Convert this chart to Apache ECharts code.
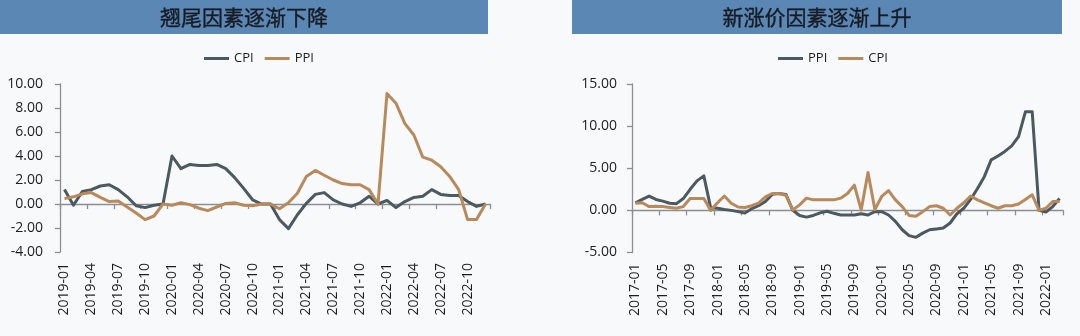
<!DOCTYPE html>
<html>
<head>
<meta charset="utf-8">
<script src="https://cdn.jsdelivr.net/npm/echarts@6/dist/echarts.min.js"></script>
<style>
  html, body { margin: 0; padding: 0; background: #f8f9fb; }
  #chart { width: 1080px; height: 336px; }
</style>
</head>
<body>
<div id="chart"></div>
<script>
// Month labels "YYYY-MM" starting in January of the given year
function monthLabels(startYear, count) {
  var out = [];
  for (var i = 0; i < count; i++) {
    var y = startYear + Math.floor(i / 12);
    var m = (i % 12) + 1;
    out.push(y + '-' + (m < 10 ? '0' + m : m));
  }
  return out;
}

// Left panel: carry-over factor, 2019-01 .. 2022-12
var leftTitle = '翘尾因素逐渐下降';
var leftCategories = monthLabels(2019, 48);
var leftCPI = [
  1.2, -0.1, 1.05, 1.2, 1.5, 1.6, 1.2, 0.6, -0.15, -0.3, -0.1, 0.0,
  4.0, 2.95, 3.3, 3.2, 3.2, 3.3, 2.95, 2.2, 1.3, 0.35, 0.0, 0.0,
  -1.3, -2.05, -0.9, 0.05, 0.8, 0.95, 0.35, 0.0, -0.2, 0.1, 0.65, 0.0,
  0.3, -0.3, 0.2, 0.55, 0.65, 1.2, 0.8, 0.7, 0.7, 0.2, -0.2, 0.0
];
var leftPPI = [
  0.45, 0.6, 0.85, 0.95, 0.55, 0.2, 0.25, -0.25, -0.75, -1.3, -1.0, 0.0,
  -0.1, 0.1, -0.05, -0.35, -0.55, -0.25, 0.05, 0.1, -0.1, -0.15, 0.0, 0.0,
  -0.4, 0.1, 0.9, 2.3, 2.8, 2.4, 2.0, 1.7, 1.6, 1.6, 1.2, 0.0,
  9.2, 8.4, 6.7, 5.75, 3.9, 3.65, 3.1, 2.3, 1.2, -1.3, -1.3, 0.0
];
var leftYTicks = { min: -4, max: 10, interval: 2 };

// Right panel: new-price factor, 2017-01 .. 2022-03
var rightTitle = '新涨价因素逐渐上升';
var rightCategories = monthLabels(2017, 63);
var rightPPI = [
  0.9, 1.3, 1.7, 1.3, 1.1, 0.85, 0.8, 1.4, 2.5, 3.5, 4.1, 0.3,
  0.25, 0.1, 0.0, -0.15, -0.3, 0.2, 0.55, 1.05, 1.9, 2.0, 1.9, 0.0,
  -0.6, -0.8, -0.6, -0.3, -0.1, -0.35, -0.55, -0.55, -0.55, -0.4, -0.55, -0.15,
  -0.15, -0.55, -1.3, -2.3, -3.0, -3.2, -2.7, -2.3, -2.2, -2.1, -1.5, -0.4,
  0.25, 1.3, 2.6, 4.0, 6.0, 6.45, 7.0, 7.65, 8.75, 11.7, 11.7, 0.0,
  -0.2, 0.45, 1.4
];
var rightCPI = [
  0.85, 0.9, 0.45, 0.5, 0.45, 0.35, 0.25, 0.45, 1.4, 1.4, 1.4, 0.0,
  0.9, 1.7, 0.85, 0.4, 0.35, 0.55, 0.85, 1.6, 2.0, 2.0, 1.8, 0.05,
  0.65, 1.45, 1.25, 1.25, 1.25, 1.25, 1.45, 2.0, 3.0, 0.05, 4.5, 0.1,
  1.65, 2.35, 1.25, 0.45, -0.6, -0.7, -0.15, 0.45, 0.55, 0.25, -0.55, 0.25,
  0.9, 1.7, 1.25, 0.9, 0.55, 0.25, 0.55, 0.55, 0.75, 1.3, 1.85, 0.0,
  0.25, 1.05, 1.05
];
var rightYTicks = { min: -5, max: 15, interval: 5 };

var DARK = '#4b5961';
var TAN = '#b8895b';
var AXIS = '#8a8f94';
var FONT = '"Open Sans", "Noto Sans", sans-serif';
var CJK = '"Noto Sans CJK SC", sans-serif';

var chart = echarts.init(document.getElementById('chart'), null, { renderer: 'canvas' });

function labelAxis(gridIndex, cats, every) {
  return {
    type: 'category', gridIndex: gridIndex, data: cats, boundaryGap: true,
    position: 'bottom',
    axisLine: { show: false, onZero: false },
    axisTick: { show: false },
    axisLabel: {
      interval: every - 1, rotate: 90, margin: 11,
      fontFamily: FONT, fontSize: 14, color: '#1e1e1e'
    }
  };
}
function zeroAxis(gridIndex, cats, every) {
  return {
    type: 'category', gridIndex: gridIndex, data: cats, boundaryGap: true,
    position: 'bottom',
    axisLine: { show: true, onZero: true, lineStyle: { color: AXIS, width: 1.3 } },
    axisTick: { show: true, interval: every - 1, length: 5, lineStyle: { color: AXIS, width: 1.3 } },
    axisLabel: { show: false }
  };
}
function valueAxis(gridIndex, t, margin) {
  return {
    type: 'value', gridIndex: gridIndex, min: t.min, max: t.max, interval: t.interval,
    axisLine: { show: true, lineStyle: { color: AXIS, width: 1.3 } },
    axisTick: { show: true, length: 5, lineStyle: { color: AXIS, width: 1.3 } },
    splitLine: { show: false },
    axisLabel: {
      margin: margin, fontFamily: FONT, fontSize: 14, color: '#1e1e1e',
      formatter: function (v) { return v.toFixed(2); }
    }
  };
}
function lineSeries(name, xi, yi, data, color) {
  return {
    name: name, type: 'line', xAxisIndex: xi, yAxisIndex: yi, data: data,
    showSymbol: false, symbol: 'none', smooth: false,
    lineStyle: { color: color, width: 3, join: 'round' },
    itemStyle: { color: color },
    emphasis: { disabled: true }, animation: false
  };
}
function titleBar(x, w, text) {
  return [
    { type: 'rect', shape: { x: x, y: 0, width: w, height: 34 }, style: { fill: '#5b87b4' }, silent: true },
    { type: 'text', x: x + w / 2, y: 17, style: {
        text: text, fill: '#161a22', font: '21px ' + CJK, align: 'center', verticalAlign: 'middle',
        stroke: '#161a22', lineWidth: 0.35
      }, silent: true }
  ];
}

chart.setOption({
  backgroundColor: '#f8f9fb',
  animation: false,
  graphic: titleBar(0, 488, leftTitle).concat(titleBar(572, 490, rightTitle)),
  legend: [
    {
      left: 199, top: 47, itemWidth: 25, itemHeight: 3, itemGap: 11, icon: 'rect',
      textStyle: { fontFamily: FONT, fontSize: 13, color: '#1e1e1e' },
      selectedMode: false,
      data: [
        { name: 'CPI', itemStyle: { color: DARK } },
        { name: 'PPI', itemStyle: { color: TAN } }
      ]
    },
    {
      left: 773, top: 47, itemWidth: 25, itemHeight: 3, itemGap: 11, icon: 'rect',
      textStyle: { fontFamily: FONT, fontSize: 13, color: '#1e1e1e' },
      selectedMode: false,
      data: [
        { name: 'PPI', itemStyle: { color: DARK } },
        { name: 'CPI', itemStyle: { color: TAN } }
      ]
    }
  ],
  grid: [
    { left: 60, top: 84, width: 430, height: 168 },
    { left: 632, top: 84, width: 431, height: 168.5 }
  ],
  xAxis: [
    labelAxis(0, leftCategories, 3),
    zeroAxis(0, leftCategories, 3),
    labelAxis(1, rightCategories, 4),
    zeroAxis(1, rightCategories, 4)
  ],
  yAxis: [
    valueAxis(0, leftYTicks, 17),
    valueAxis(1, rightYTicks, 15)
  ],
  series: [
    lineSeries('CPI', 0, 0, leftCPI, DARK),
    lineSeries('PPI', 0, 0, leftPPI, TAN),
    lineSeries('PPI', 2, 1, rightPPI, DARK),
    lineSeries('CPI', 2, 1, rightCPI, TAN)
  ]
});
</script>
</body>
</html>
